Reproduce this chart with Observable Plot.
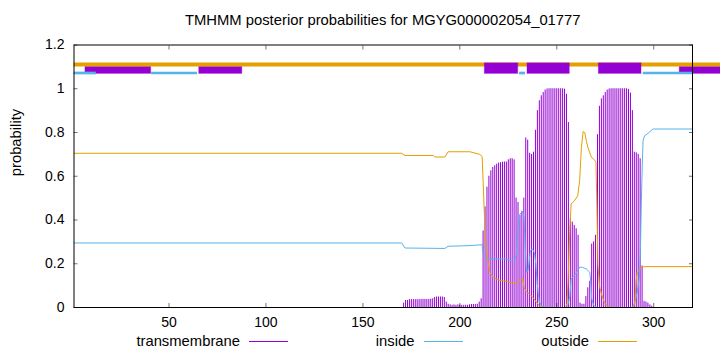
<!DOCTYPE html>
<html><head><meta charset="utf-8">
<script src="https://cdn.jsdelivr.net/npm/d3@7"></script>
<script src="https://cdn.jsdelivr.net/npm/@observablehq/plot@0.6"></script>
<style>
body{margin:0;background:#fff;font-family:"Liberation Sans",Arial,sans-serif;color:#000;}
#wrap{position:relative;width:720px;height:352px;overflow:hidden;background:#fff;}
#title{height:34px;line-height:40px;box-sizing:border-box;padding-left:73.5px;padding-right:28px;text-align:center;font-size:14.8px;white-space:nowrap;}
#legend{position:relative;height:20px;font-size:14.8px;}
.lt{position:absolute;top:0;width:200px;text-align:right;line-height:18px;white-space:nowrap;}
.ll{position:absolute;top:9px;width:39px;height:1px;}
</style></head>
<body><div id="wrap"><div id="title"></div><div id="chart"></div><div id="legend"></div></div>
<script>
const titleText = "TMHMM posterior probabilities for MGYG000002054_01777";
const yLabel = "probability";
const seqLength = 320;
const xTicks = [50, 100, 150, 200, 250, 300];
const yTicks = [0, 0.2, 0.4, 0.6, 0.8, 1, 1.2];
const seriesNames = ["transmembrane", "inside", "outside"];
const seriesColors = ["#9400D3", "#56B4E9", "#E69F00"];

// posterior probability of transmembrane, per residue, starting at residue tmStart
const tmStart = 171;
const tmValues = [
  0.020, 0.032, 0.032, 0.036, 0.036, 0.036, 0.036, 0.036, 0.036, 0.037, // 171-180
  0.037, 0.037, 0.037, 0.037, 0.038, 0.040, 0.046, 0.048, 0.048, 0.048, // 181-190
  0.048, 0.046, 0.025, 0.015, 0.012, 0.010, 0.012, 0.010, 0.012, 0.011, // 191-200
  0.010, 0.010, 0.010, 0.010, 0.012, 0.014, 0.014, 0.014, 0.015, 0.025, // 201-210
  0.040, 0.350, 0.460, 0.550, 0.600, 0.625, 0.640, 0.648, 0.655, 0.660, // 211-220
  0.662, 0.664, 0.665, 0.665, 0.675, 0.680, 0.680, 0.675, 0.500, 0.480, // 221-230
  0.420, 0.440, 0.500, 0.775, 0.765, 0.705, 0.700, 0.710, 0.810, 0.900, // 231-240
  0.945, 0.968, 0.983, 0.994, 0.999, 1.000, 1.000, 1.000, 1.000, 1.000, // 241-250
  1.000, 1.000, 1.000, 0.998, 0.975, 0.846, 0.405, 0.390, 0.375, 0.360, // 251-260
  0.330, 0.020, 0.015, 0.015, 0.050, 0.090, 0.120, 0.290, 0.300, 0.330, // 261-270
  0.790, 0.920, 0.954, 0.968, 0.983, 0.994, 0.999, 1.000, 1.000, 1.000, // 271-280
  1.000, 1.000, 1.000, 1.000, 1.000, 1.000, 0.997, 0.980, 0.900, 0.710, // 281-290
  0.707, 0.700, 0.680, 0.190, 0.028, 0.025, 0.020, 0.012, 0.006        // 291-299
];

// inside probability curve: residue positions and values
const insidePos = [1, 170, 171.7, 192.3, 194, 205.2, 211.5, 212, 213.8, 215.5, 224.1, 226.6, 228.3, 229.2, 230.1, 231, 232.4, 233.1, 233.7, 234.4, 235.2, 236.4, 237.4, 238.5, 239.2, 239.9, 240.9, 242.1, 244.6, 255, 255.8, 256.7, 257.4, 259.5, 261.8, 263.2, 265.3, 267, 267.5, 268, 269, 270.4, 271.3, 288.5, 289.5, 290.5, 291.5, 292.6, 293.1, 293.6, 294.1, 294.5, 295.3, 297, 299.6, 320];
const insideVal = [0.295, 0.295, 0.272, 0.270, 0.280, 0.283, 0.287, 0.245, 0.225, 0.222, 0.222, 0.212, 0.215, 0.245, 0.367, 0.428, 0.436, 0.413, 0.276, 0.161, 0.170, 0.260, 0.268, 0.250, 0.200, 0.110, 0.030, 0.005, 0, 0, 0.015, 0.050, 0.131, 0.150, 0.184, 0.184, 0.176, 0.161, 0.120, 0.040, 0.010, 0.003, 0, 0, 0.010, 0.030, 0.070, 0.138, 0.245, 0.473, 0.656, 0.763, 0.785, 0.796, 0.816, 0.816];

// outside probability curve
const outsidePos = [1, 170, 171.7, 186.3, 187.1, 192.3, 194, 205.2, 210.3, 211.5, 212, 212.9, 213.8, 215.5, 217.2, 220.6, 224.1, 227.5, 230.1, 231.8, 232.4, 233.2, 234.4, 236.1, 237.8, 239.5, 241.2, 243, 254.5, 255.3, 255.8, 256.7, 257.4, 259, 260.8, 261.8, 262.7, 263.6, 264.4, 265.3, 266.1, 267.9, 269.5, 270.2, 270.7, 271.2, 272, 273, 274.7, 276.4, 278, 289.3, 290.2, 291, 291.5, 293, 294, 296, 320];
const outsideVal = [0.705, 0.705, 0.695, 0.695, 0.688, 0.688, 0.712, 0.712, 0.700, 0.690, 0.580, 0.367, 0.245, 0.161, 0.138, 0.123, 0.120, 0.111, 0.115, 0.131, 0.135, 0.090, 0.070, 0.060, 0.045, 0.024, 0.005, 0, 0, 0.020, 0.123, 0.350, 0.473, 0.487, 0.511, 0.580, 0.732, 0.805, 0.800, 0.760, 0.730, 0.686, 0.674, 0.663, 0.458, 0.200, 0.100, 0.062, 0.020, 0.005, 0, 0, 0.015, 0.130, 0.160, 0.175, 0.185, 0.187, 0.187];

// top prediction track
const outTrackStart = [1];
const outTrackEnd = [335];
const inTrackStart = [1, 41.0, 230.8, 294.6];
const inTrackEnd = [12.5, 64.7, 233.9, 320.2];
const helixStart = [212.9, 234.9, 271.7];   // boxes drawn over the outside bar
const helixEnd = [230.1, 256.7, 293.7];
const otherBoxStart = [6.9, 65.6, 313.4];   // boxes drawn under the outside bar
const otherBoxEnd = [40.8, 87.8, 335];

const tmData = tmValues.map((p, i) => ({pos: tmStart + i, p}));
const insideData = insidePos.map((pos, i) => ({pos, p: insideVal[i]}));
const outsideData = outsidePos.map((pos, i) => ({pos, p: outsideVal[i]}));
const seg = (s, e) => s.map((v, i) => ({s: v, e: e[i]}));

const font = '"Liberation Sans", Arial, sans-serif';
const chart = Plot.plot({
  width: 720,
  height: 298,
  marginTop: 10.5,
  marginBottom: 25,
  marginLeft: 73.5,
  marginRight: 28,
  style: {fontFamily: font, fontSize: "14px", background: "white", color: "black", overflow: "visible"},
  x: {domain: [1, seqLength], label: null},
  y: {domain: [0, 1.2], label: null},
  marks: [
    Plot.ruleX(tmData, {x: "pos", y: "p", stroke: seriesColors[0], strokeWidth: 1}),
    Plot.line(insideData, {x: "pos", y: "p", stroke: seriesColors[1], strokeWidth: 1}),
    Plot.line(outsideData, {x: "pos", y: "p", stroke: seriesColors[2], strokeWidth: 1}),
    Plot.rect(seg(otherBoxStart, otherBoxEnd), {x1: "s", x2: "e", y1: 1.068, y2: 1.1005, fill: seriesColors[0], stroke: seriesColors[0], strokeOpacity: 0.4, strokeWidth: 1}),
    Plot.ruleY(seg(outTrackStart, outTrackEnd), {x1: "s", x2: "e", y: 1.111, stroke: seriesColors[2], strokeWidth: 4}),
    Plot.rect(seg(helixStart, helixEnd), {x1: "s", x2: "e", y1: 1.068, y2: 1.116, fill: seriesColors[0], stroke: seriesColors[0], strokeOpacity: 0.4, strokeWidth: 1}),
    Plot.ruleY(seg(inTrackStart, inTrackEnd), {x1: "s", x2: "e", y: 1.072, stroke: seriesColors[1], strokeWidth: 2.7}),
    Plot.axisX(xTicks, {anchor: "bottom", tickSize: -4, tickPadding: 14, strokeOpacity: 0.55, label: null, fontSize: 14}),
    Plot.axisX(xTicks, {anchor: "top", tickSize: -4, strokeOpacity: 0.55, tickFormat: () => "", label: null}),
    Plot.axisY(yTicks, {anchor: "left", tickSize: -4, tickPadding: 13.5, strokeOpacity: 0.55, tickFormat: d3.format("~g"), label: null, fontSize: 14}),
    Plot.axisY(yTicks, {anchor: "right", tickSize: -4, strokeOpacity: 0.55, tickFormat: () => "", label: null}),
    Plot.frame({stroke: "black", strokeWidth: 1}),
    Plot.text([yLabel], {text: d => d, frameAnchor: "left", dx: -57.5, rotate: -90, fontSize: 14.8, fill: "black"})
  ]
});
document.getElementById("chart").appendChild(chart);
document.getElementById("title").textContent = titleText;

const legendRight = [240, 414.5, 589];
const legend = document.getElementById("legend");
seriesNames.forEach((name, i) => {
  const t = document.createElement("div");
  t.className = "lt";
  t.style.left = (legendRight[i] - 200) + "px";
  t.textContent = name;
  legend.appendChild(t);
  const l = document.createElement("div");
  l.className = "ll";
  l.style.left = (legendRight[i] + 9) + "px";
  l.style.background = seriesColors[i];
  legend.appendChild(l);
});
</script></body></html>
